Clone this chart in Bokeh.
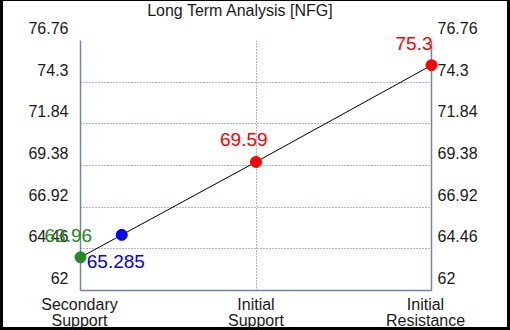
from bokeh.plotting import figure
from bokeh.models import Range1d, LinearAxis, FixedTicker, Grid, ColumnDataSource
from bokeh.core.properties import value
from bokeh.embed import file_html
from bokeh.resources import INLINE

# ---- data ----
title_text = "Long Term Analysis [NFG]"
categories = ["Secondary\nSupport", "Initial\nSupport", "Initial\nResistance"]
category_x = [0, 1, 2]
level_values = [63.96, 69.59, 75.3]
price_x = [0.235]
price_values = [65.285]
y_ticks = [62, 64.46, 66.92, 69.38, 71.84, 74.3, 76.76]
y_tick_labels = ["62", "64.46", "66.92", "69.38", "71.84", "74.3", "76.76"]

# ---- styles ----
FONT = value("Liberation Sans")
level_colors = ["#228b22", "#ff0000", "#ff0000"]
AXIS_COLOR = "#6f84ab"
GRID_COLOR = "#5b6f9e"
TEXT_COLOR = "#1a1a1a"
W, H = 510, 330

p = figure(width=W, height=H,
           x_range=Range1d(min(category_x), max(category_x)),
           y_range=Range1d(min(y_ticks), max(y_ticks)),
           output_backend="svg", toolbar_location=None,
           x_axis_type=None, y_axis_type=None,
           min_border_left=80, min_border_right=79,
           min_border_top=40, min_border_bottom=40)
p.outline_line_color = None
p.background_fill_color = "white"
p.border_fill_color = None
p.styles = {"background-color": "white",
            "box-shadow": "inset 3px -3px 0 0 black, inset -3px 1px 0 0 black"}

# grids
xg = Grid(dimension=0, ticker=FixedTicker(ticks=category_x[1:-1]),
          grid_line_color=GRID_COLOR, grid_line_dash="1 2", grid_line_width=1)
yg = Grid(dimension=1, ticker=FixedTicker(ticks=y_ticks),
          grid_line_color=GRID_COLOR, grid_line_dash="1 2", grid_line_width=1)
p.add_layout(xg)
p.add_layout(yg)

# axes (lines only)
for side in ["left", "right", "below"]:
    ax = LinearAxis(ticker=FixedTicker(ticks=[]), axis_line_color=AXIS_COLOR,
                    axis_line_width=1.5, major_tick_line_color=None,
                    minor_tick_line_color=None)
    p.add_layout(ax, side)

xmin, xmax = p.x_range.start, p.x_range.end
ymin, ymax = p.y_range.start, p.y_range.end

# title
p.text(x=[(xmin + xmax) / 2], y=[ymax], text=[title_text],
       text_align="center", text_baseline="middle", x_offset=-15.5, y_offset=-30,
       text_font=FONT, text_font_size="16px", text_color=TEXT_COLOR, level="overlay")

# y tick labels (placed above each grid line, as in the reference)
p.text(x=[xmin] * len(y_ticks), y=y_ticks, text=y_tick_labels,
       text_align="right", text_baseline="middle", x_offset=-12, y_offset=-12.5,
       text_font=FONT, text_font_size="16px", text_color=TEXT_COLOR, level="overlay")
p.text(x=[xmax] * len(y_ticks), y=y_ticks, text=y_tick_labels,
       text_align="left", text_baseline="middle", x_offset=6, y_offset=-12.5,
       text_font=FONT, text_font_size="16px", text_color=TEXT_COLOR, level="overlay")

# x category labels
xsrc = ColumnDataSource(dict(x=category_x, y=[ymin] * len(category_x), t=categories,
                             dx=[-1, 0, -6]))
p.text(x="x", y="y", text="t", source=xsrc, text_align="center", text_baseline="top",
       x_offset="dx", y_offset=5, text_line_height=0.95,
       text_font=FONT, text_font_size="16px", text_color=TEXT_COLOR, level="overlay")

# line + points
p.line(category_x, level_values, line_color="black", line_width=1)
p.scatter(category_x, level_values, size=11, color=level_colors, level="overlay")
p.scatter(price_x, price_values, size=11, color="#0000ff", level="overlay")

# value labels
p.text(x=category_x, y=level_values, text=[f"{v:g}" for v in level_values],
       text_align="left", text_baseline="middle", x_offset=-36, y_offset=-22,
       text_font=FONT, text_font_size="19px", text_color=level_colors, level="overlay")
p.text(x=price_x, y=price_values, text=[f"{v:g}" for v in price_values],
       text_align="left", text_baseline="middle", x_offset=-35, y_offset=27,
       text_font=FONT, text_font_size="19px", text_color="#0000ff", level="overlay")

open("out.html", "w").write(file_html(p, INLINE))
